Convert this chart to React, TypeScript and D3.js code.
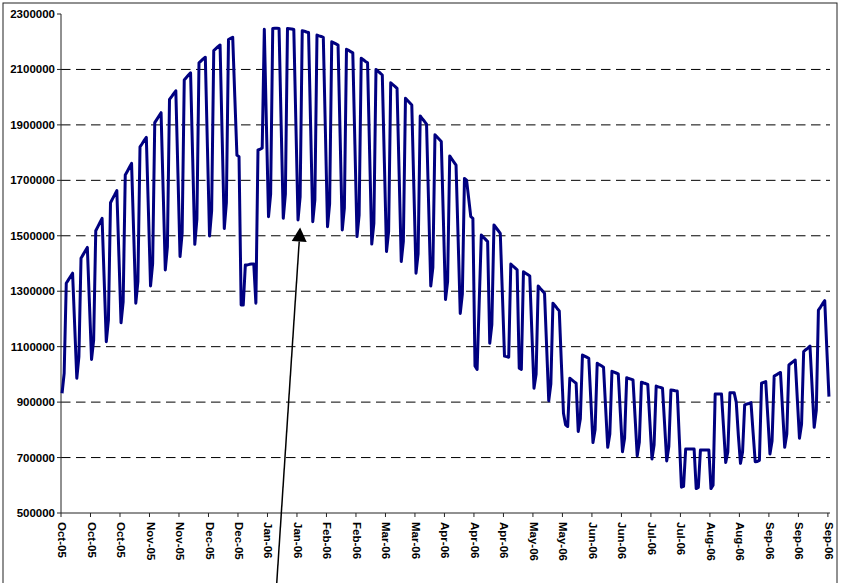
import * as d3 from "d3";

// daily values in thousands, weeks run Sat..Fri, starting Sat 1 Oct 2005
const octToDec = [
  932, 1004, 1329, 1341, 1353, 1365, 1175,
  986, 1064, 1419, 1432, 1445, 1458, 1256,
  1054, 1124, 1518, 1533, 1548, 1563, 1340,
  1118, 1196, 1619, 1634, 1648, 1663, 1425,
  1186, 1262, 1719, 1733, 1747, 1761, 1510,
  1257, 1335, 1821, 1832, 1844, 1855, 1588,
  1319, 1400, 1908, 1920, 1932, 1944, 1660,
  1377, 1460, 1992, 2002, 2013, 2023, 1725,
  1425, 1510, 2062, 2071, 2080, 2088, 1780,
  1469, 1560, 2124, 2131, 2138, 2144, 1820,
  1499, 1590, 2168, 2175, 2182, 2188, 1855,
  1526, 1620, 2208, 2212, 2216, 2000, 1791,
  1785, 1250, 1250, 1395, 1395, 1397, 1398,
];

const decToMar = [
  1398, 1257, 1810, 1812, 1817, 2245, 1900,
  1569, 1650, 2248, 2249, 2249, 2248, 1900,
  1563, 1650, 2248, 2247, 2246, 2244, 1900,
  1557, 1640, 2240, 2238, 2235, 2233, 1890,
  1551, 1630, 2224, 2221, 2219, 2216, 1875,
  1533, 1615, 2200, 2196, 2192, 2188, 1855,
  1521, 1600, 2173, 2169, 2164, 2160, 1830,
  1497, 1575, 2140, 2135, 2129, 2124, 1797,
  1470, 1545, 2100, 2093, 2087, 2080, 1762,
  1443, 1515, 2052, 2045, 2039, 2032, 1720,
  1407, 1480, 1996, 1988, 1980, 1972, 1668,
  1365, 1435, 1932, 1922, 1913, 1903, 1611,
  1319, 1385, 1864, 1856, 1848, 1840, 1557,
];

const aprToJun = [
  1270, 1335, 1788, 1777, 1766, 1755, 1488,
  1220, 1290, 1707, 1701, 1635, 1569, 1563,
  1030, 1018, 1260, 1503, 1495, 1487, 1479,
  1112, 1180, 1539, 1529, 1519, 1509, 1290,
  1066, 1064, 1062, 1398, 1391, 1384, 1377,
  1022, 1018, 1370, 1365, 1360, 1355, 1150,
  950, 1000, 1319, 1310, 1302, 1293, 1100,
  905, 965, 1257, 1248, 1238, 1229, 1040,
  860, 818, 812, 986, 980, 974, 968,
  794, 840, 1070, 1066, 1062, 1058, 905,
  754, 800, 1040, 1035, 1031, 1026, 880,
  737, 785, 1011, 1008, 1005, 1002, 860,
  721, 770, 988, 985, 983, 980, 843,
];

const julToSep = [
  706, 755, 972, 969, 967, 964, 830,
  695, 745, 958, 955, 953, 950, 820,
  688, 740, 944, 943, 941, 940, 766,
  593, 596, 731, 731, 731, 731, 731,
  588, 592, 727, 727, 727, 727, 727,
  588, 600, 929, 929, 929, 929, 805,
  682, 720, 934, 934, 934, 900, 780,
  679, 720, 890, 893, 895, 898, 790,
  685, 686, 690, 968, 971, 974, 845,
  713, 760, 994, 998, 1003, 1007, 870,
  737, 785, 1034, 1040, 1046, 1052, 910,
  770, 820, 1082, 1089, 1095, 1102, 955,
  809, 870, 1232, 1243, 1255, 1266, 1090,
  920,
];

const yTicks = [500000, 700000, 900000, 1100000, 1300000, 1500000, 1700000, 1900000, 2100000, 2300000];
const gridValues = [700000, 900000, 1100000, 1300000, 1500000, 1700000, 1900000, 2100000];
const labelEvery = 14;

const values = [...octToDec, ...decToMar, ...aprToJun, ...julToSep].map((v) => v * 1000);
const days = d3.timeDay.range(new Date(2005, 9, 1), new Date(2006, 9, 1));
const fmt = d3.timeFormat("%b-%y");

const W = 841;
const H = 583;
const left = 61;
const right = 830;
const top = 14;
const bottom = 513;

const font = "'Liberation Sans', Arial, sans-serif";

export default function App() {
  const x = d3
    .scaleBand<number>()
    .domain(d3.range(days.length))
    .range([left, right])
    .padding(0);
  const bw = x.bandwidth();
  const cx = (i: number) => (x(i) || 0) + bw / 2;

  const y = d3.scaleLinear().domain([500000, 2300000]).range([bottom, top]);

  const line = d3
    .line<number>()
    .x((_, i) => cx(i))
    .y((d) => y(d));

  const tickIdx = d3.range(0, days.length, labelEvery);

  // annotation arrow pointing at the January weekend trough
  const tipX = cx(113);
  const tipY = y(1530000);
  const dx = -23.5;
  const dy = 357;
  const len = Math.hypot(dx, dy);
  const ux = dx / len;
  const uy = dy / len;
  const head = 14;
  const half = 7.5;
  const bx = tipX + ux * head;
  const by = tipY + uy * head;

  return (
    <svg
      width={W}
      height={H}
      style={{ position: "absolute", left: 0, top: 0, background: "#fff" }}
    >
      <rect x={3} y={3} width={834} height={640} fill="#fff" stroke="#222" strokeWidth={1} />

      {gridValues.map((v) => (
        <line
          key={v}
          x1={left}
          x2={right}
          y1={y(v)}
          y2={y(v)}
          stroke="#000"
          strokeWidth={1}
          strokeDasharray="9.5,5.5"
        />
      ))}

      <line x1={left} x2={left} y1={top} y2={bottom} stroke="#222" strokeWidth={1} />
      {yTicks.map((v) => (
        <g key={v}>
          <line x1={left - 4} x2={left} y1={y(v)} y2={y(v)} stroke="#222" />
          <text
            x={left - 6}
            y={y(v)}
            dy="0.35em"
            textAnchor="end"
            fontFamily={font}
            fontWeight="bold"
            fontSize={11.5}
            fill="#000"
          >
            {v}
          </text>
        </g>
      ))}

      <line x1={left} x2={right} y1={bottom} y2={bottom} stroke="#222" strokeWidth={1} />
      {tickIdx.map((i) => (
        <g key={i}>
          <line x1={x(i)} x2={x(i)} y1={bottom} y2={bottom + 4} stroke="#222" />
          <text
            transform={`translate(${cx(i)},${bottom + 9}) rotate(90)`}
            dy="0.35em"
            fontFamily={font}
            fontWeight="bold"
            fontSize={11.5}
            fill="#000"
          >
            {fmt(days[i])}
          </text>
        </g>
      ))}

      <path
        d={line(values) || ""}
        fill="none"
        stroke="#000080"
        strokeWidth={3}
        strokeLinejoin="round"
      />

      <line x1={bx} y1={by} x2={tipX + ux * 380} y2={tipY + uy * 380} stroke="#000" strokeWidth={1.5} />
      <polygon
        points={`${tipX},${tipY} ${bx + uy * half},${by - ux * half} ${bx - uy * half},${by + ux * half}`}
        fill="#000"
      />
    </svg>
  );
}
